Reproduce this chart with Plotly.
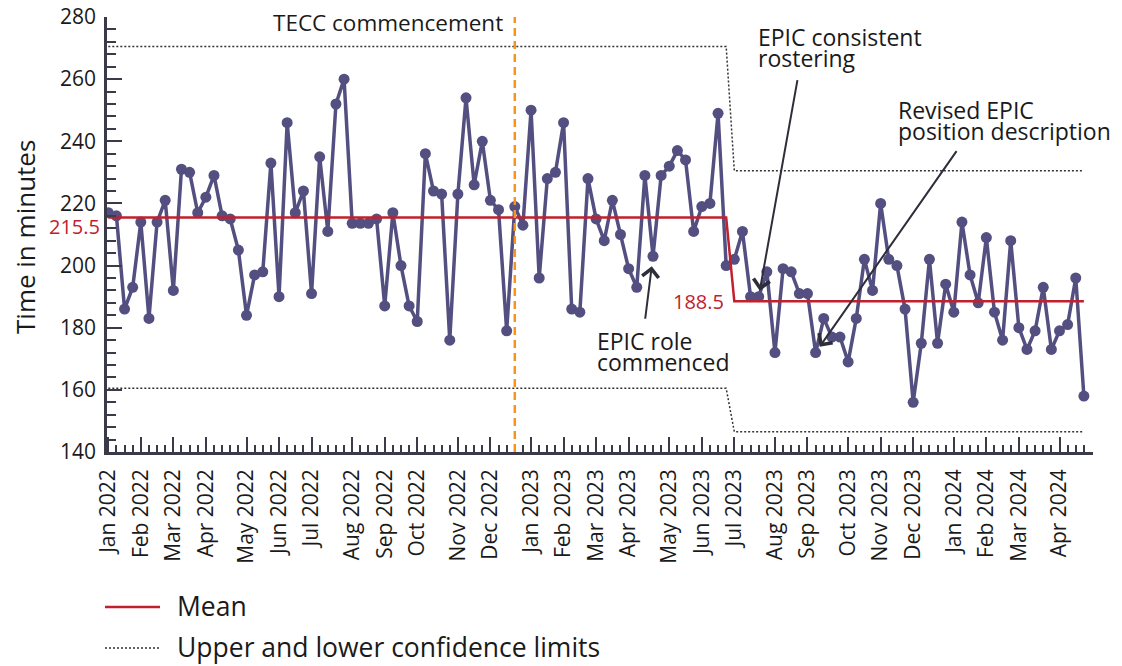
import datetime as dt
import plotly.graph_objects as go

# ---------------- data ----------------
values = [
    217, 216, 186, 193, 214, 183, 214, 221, 192, 231,
    230, 217, 222, 229, 216, 215, 205, 184, 197, 198,
    233, 190, 246, 217, 224, 191, 235, 211, 252, 260,
    213.6, 213.6, 213.6, 215, 187, 217, 200, 187, 182, 236,
    224, 223, 176, 223, 254, 226, 240, 221, 218, 179,
    219, 213, 250, 196, 228, 230, 246, 186, 185, 228,
    215, 208, 221, 210, 199, 193, 229, 203, 229, 232,
    237, 234, 211, 219, 220, 249, 200, 202, 211, 190,
    190, 198, 172, 199, 198, 191, 191, 172, 183, 177,
    177, 169, 183, 202, 192, 220, 202, 200, 186, 156,
    175, 202, 175, 194, 185, 214, 197, 188, 209, 185,
    176, 208, 180, 173, 179, 193, 173, 179, 181, 196,
    158,
]
phase_split = 77              # first week of the second phase
mean_values = [215.5, 188.5]
upper_limits = [270.5, 230.5]
lower_limits = [160.5, 146.5]
first_week = dt.date(2022, 1, 2)
month_labels = [
    "Jan 2022", "Feb 2022", "Mar 2022", "Apr 2022", "May 2022", "Jun 2022",
    "Jul 2022", "Aug 2022", "Sep 2022", "Oct 2022", "Nov 2022", "Dec 2022",
    "Jan 2023", "Feb 2023", "Mar 2023", "Apr 2023", "May 2023", "Jun 2023",
    "Jul 2023", "Aug 2023", "Sep 2023", "Oct 2023", "Nov 2023", "Dec 2023",
    "Jan 2024", "Feb 2024", "Mar 2024", "Apr 2024",
]
y_ticks = [140, 160, 180, 200, 220, 240, 260, 280]
tecc_index = 50
epic_role_index = 67
epic_roster_index = 80
revised_pd_index = 87

# ---------------- derived ----------------
n = len(values)
weeks = list(range(n))


def phased(pair):
    return [pair[0] if i < phase_split else pair[1] for i in weeks]


mean_line = phased(mean_values)
upper_line = phased(upper_limits)
lower_line = phased(lower_limits)

month_ticks = []
for lab in month_labels:
    d = dt.datetime.strptime(lab, "%b %Y").date()
    month_ticks.append(max(0, (d - first_week).days // 7))

# ---------------- styles ----------------
FONT = "Open Sans"
PURPLE = "#534f80"
RED = "#c0212d"
ORANGE = "#f7941d"
AXIS = "#3a3a48"
TEXT = "#1a1a1a"
ARROW = "#2e2e3a"

W, H = 1122, 666
ML, MR, MT, MB = 107, 29, 17, 214
PW = W - ML - MR
PH = H - MT - MB


def px_x(p):
    return (p - ML) / PW


def px_y(p):
    return (H - MB - p) / PH


fig = go.Figure()

for lim in (upper_line, lower_line):
    fig.add_trace(go.Scatter(
        x=weeks, y=lim, mode="lines",
        line=dict(color="#333333", width=1.5, dash="2px,2px"),
        hoverinfo="skip", showlegend=False,
    ))

fig.add_trace(go.Scatter(
    x=weeks, y=values, mode="lines+markers",
    line=dict(color=PURPLE, width=3.5),
    marker=dict(color=PURPLE, size=11),
    name="Time in minutes", showlegend=False,
))

fig.add_trace(go.Scatter(
    x=weeks, y=mean_line, mode="lines",
    line=dict(color=RED, width=2.5),
    name="Mean", showlegend=False,
))

# TECC vertical line
fig.add_shape(type="line", xref="x", yref="paper",
              x0=tecc_index, x1=tecc_index, y0=0, y1=1,
              line=dict(color=ORANGE, width=2.5, dash="8px,5px"))

# legend samples
fig.add_shape(type="line", xref="paper", yref="paper",
              x0=px_x(105), x1=px_x(160), y0=px_y(607), y1=px_y(607),
              line=dict(color=RED, width=2.5))
fig.add_shape(type="line", xref="paper", yref="paper",
              x0=px_x(105), x1=px_x(160), y0=px_y(648), y1=px_y(648),
              line=dict(color="#333333", width=1.5, dash="2px,2px"))

ann = []


def txt(text, x, y, size=23, color=TEXT, xanchor="left", **kw):
    d = dict(text=text, x=x, y=y, xref="paper", yref="paper",
             xanchor=xanchor, yanchor="middle", showarrow=False,
             font=dict(family=FONT, size=size, color=color))
    d.update(kw)
    ann.append(d)


# legend texts
txt("Mean", px_x(175), px_y(606), size=26.5)
txt("Upper and lower confidence limits", px_x(175), px_y(647), size=26.5)

# y title
txt("Time in minutes", px_x(25), px_y(237), size=26, xanchor="center", textangle=-90)

# TECC label
ann.append(dict(text="TECC commencement", x=tecc_index, xref="x", y=1, yref="paper",
                xanchor="right", yanchor="middle", xshift=-10, yshift=-5,
                showarrow=False, font=dict(family=FONT, size=22.5, color=TEXT)))

# annotation texts
txt("EPIC consistent", px_x(756), px_y(37))
txt("rostering", px_x(756), px_y(58))
txt("Revised EPIC", px_x(896), px_y(110))
txt("position description", px_x(896), px_y(131))
txt("EPIC role", px_x(595), px_y(341))
txt("commenced", px_x(595), px_y(362))

# mean value labels
ann.append(dict(text="215.5", x=0, xref="paper", y=mean_values[0], yref="y",
                xanchor="right", yanchor="middle", xshift=-5, yshift=-9,
                showarrow=False, font=dict(family=FONT, size=20, color=RED)))
ann.append(dict(text="188.5", x=phase_split, xref="x", y=mean_values[1], yref="y",
                xanchor="right", yanchor="middle", xshift=-8,
                showarrow=False, font=dict(family=FONT, size=20, color=RED)))

# arrows
for idx, axp, ayp, so in [
    (epic_role_index, -8, 64, 10),
    (epic_roster_index, 39, -218, 6),
    (revised_pd_index, 142, -203, 7),
]:
    ann.append(dict(text="", x=idx, y=values[idx], xref="x", yref="y",
                    ax=axp, ay=ayp, showarrow=True, arrowhead=4,
                    arrowsize=1.6, arrowwidth=2, arrowcolor=ARROW, standoff=so))

fig.update_layout(
    width=W, height=H, autosize=False,
    margin=dict(l=ML, r=MR, t=MT, b=MB, pad=0, autoexpand=False),
    paper_bgcolor="white", plot_bgcolor="white",
    showlegend=False,
    font=dict(family=FONT, color=TEXT),
    annotations=ann,
)

fig.update_xaxes(
    automargin=False,
    range=[-0.16, 121.12], showgrid=False, zeroline=False,
    showline=True, linecolor=AXIS, linewidth=2.5,
    tickmode="array", tickvals=month_ticks, ticktext=month_labels,
    ticks="inside", ticklen=15, tickwidth=2, tickcolor=AXIS,
    tickangle=-90, tickfont=dict(family=FONT, size=21, color=TEXT),
    ticklabelstandoff=6,
    minor=dict(tickmode="linear", tick0=0, dtick=1, ticks="inside",
               ticklen=7, tickwidth=1.5, tickcolor=AXIS, showgrid=False),
)
fig.update_yaxes(
    automargin=False,
    range=[140, 280], showgrid=False, zeroline=False,
    showline=True, linecolor=AXIS, linewidth=2.5,
    tickmode="array", tickvals=y_ticks,
    ticks="inside", ticklen=15, tickwidth=2, tickcolor=AXIS,
    tickfont=dict(family=FONT, size=21, color=TEXT),
    ticklabelstandoff=4,
    minor=dict(tickmode="linear", tick0=140, dtick=4, ticks="inside",
               ticklen=9, tickwidth=1.5, tickcolor=AXIS, showgrid=False),
)

# remove the default page margin so the figure fills the window exactly
fig.write_html(
    "out.html",
    config={"displayModeBar": False},
    post_script="document.body.style.margin='0';document.body.style.overflow='hidden';",
)
